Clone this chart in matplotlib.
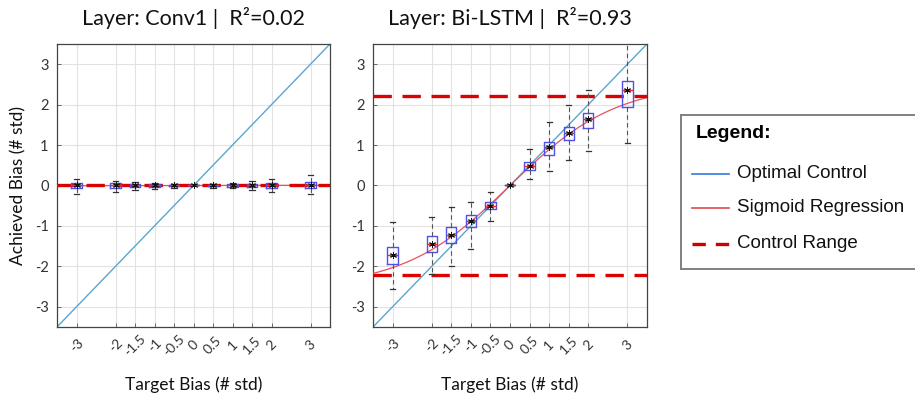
import numpy as np
import matplotlib
matplotlib.use('Agg')
import matplotlib.pyplot as plt

# target bias levels (x positions) and their tick labels
targets = [-3, -2, -1.5, -1, -0.5, 0, 0.5, 1, 1.5, 2, 3]
tick_labels = ['-3', '-2', '-1.5', '-1', '-0.5', '0', '0.5', '1', '1.5', '2', '3']
y_ticks = [-3, -2, -1, 0, 1, 2, 3]

# Layer Conv1 (R^2 = 0.02)
conv1_med = [0.0, 0.0, 0.0, 0.0, 0.0, 0.0, 0.0, 0.0, 0.0, 0.0, 0.02]
conv1_q1 = [-0.07, -0.06, -0.04, -0.03, -0.02, 0.0, -0.02, -0.03, -0.04, -0.05, -0.05]
conv1_q3 = [0.07, 0.06, 0.04, 0.03, 0.02, 0.0, 0.02, 0.03, 0.04, 0.06, 0.08]
conv1_lo = [-0.2, -0.16, -0.12, -0.08, -0.06, 0.0, -0.06, -0.07, -0.12, -0.17, -0.22]
conv1_hi = [0.15, 0.11, 0.09, 0.06, 0.04, 0.0, 0.04, 0.05, 0.1, 0.15, 0.26]
conv1_range = [0.0]

# Layer Bi-LSTM (R^2 = 0.93)
lstm_med = [-1.72, -1.45, -1.23, -0.88, -0.5, 0.0, 0.49, 0.94, 1.31, 1.65, 2.37]
lstm_q1 = [-1.95, -1.65, -1.42, -1.03, -0.58, 0.0, 0.38, 0.75, 1.12, 1.42, 1.94]
lstm_q3 = [-1.53, -1.24, -1.03, -0.72, -0.4, 0.0, 0.57, 1.08, 1.45, 1.79, 2.58]
lstm_lo = [-2.57, -2.19, -1.98, -1.56, -0.89, 0.0, 0.16, 0.35, 0.63, 0.85, 1.04]
lstm_hi = [-0.91, -0.78, -0.54, -0.4, -0.16, 0.0, 0.91, 1.57, 2.0, 2.37, 3.6]
lstm_range = [-2.22, 2.22]

panels = [
    ('Layer: Conv1 |  R\u00b2=0.02', conv1_med, conv1_q1, conv1_q3, conv1_lo, conv1_hi, conv1_range),
    ('Layer: Bi-LSTM |  R\u00b2=0.93', lstm_med, lstm_q1, lstm_q3, lstm_lo, lstm_hi, lstm_range),
]

TICK_FONT = 'Lato'
LEG_FONT = 'Liberation Sans'


def fit_sigmoid(x, y):
    """least squares fit of y = a*tanh(k*x), grid over k"""
    x = np.asarray(x, float)
    y = np.asarray(y, float)
    best = (0.0, 1.0, np.inf)
    for k in np.linspace(0.05, 2.0, 400):
        t = np.tanh(k * x)
        a = (y * t).sum() / (t * t).sum()
        err = ((y - a * t) ** 2).sum()
        if err < best[2]:
            best = (a, k, err)
    return best[0], best[1]


fig = plt.figure(figsize=(9.15, 3.93), dpi=100)
ax_rects = [[57 / 915, 66 / 393, 273 / 915, 283 / 393],
            [373 / 915, 66 / 393, 274 / 915, 283 / 393]]

for i, (title, med, q1, q3, lo, hi, crange) in enumerate(panels):
    ax = fig.add_axes(ax_rects[i])
    ax.set_xlim(-3.5, 3.5)
    ax.set_ylim(-3.5, 3.5)
    ax.set_xticks(targets)
    ax.set_xticklabels(tick_labels, rotation=45, ha='center', va='center',
                       fontsize=10, family=TICK_FONT, color='#333333')
    ax.set_yticks(y_ticks)
    ax.set_yticklabels([str(v) for v in y_ticks], fontsize=10.5,
                       family=TICK_FONT, color='#333333')
    ax.tick_params(direction='in', length=3, width=0.6, color='#555555', pad=6)
    ax.tick_params(axis='x', pad=13)
    ax.grid(True, color='#e2e2e2', lw=0.8)
    ax.set_axisbelow(True)
    for s in ax.spines.values():
        s.set_color('#444444')
        s.set_linewidth(0.9)

    # optimal control (identity)
    ax.plot([-3.5, 3.5], [-3.5, 3.5], color='#5aa6cf', lw=1.0, zorder=2)

    # sigmoid regression fitted to the medians
    amp, k = fit_sigmoid(targets, med)
    xs = np.linspace(-3.5, 3.5, 200)
    ax.plot(xs, amp * np.tanh(k * xs), color='#e8505a', lw=0.9, zorder=3)

    # control range
    for yv in crange:
        ax.axhline(yv, color='#dd0000', lw=2.4, dashes=(5.5, 3.2), zorder=3)

    stats = []
    for j in range(len(targets)):
        stats.append(dict(med=med[j], q1=q1[j], q3=q3[j], whislo=lo[j],
                          whishi=hi[j], mean=med[j], fliers=[]))
    ax.bxp(stats, positions=targets, widths=0.26, showmeans=True,
           manage_ticks=False, patch_artist=False,
           boxprops=dict(color='#5050ea', lw=1.0),
           whiskerprops=dict(color='#555555', lw=0.8, linestyle=(0, (4, 3))),
           capprops=dict(color='#333333', lw=0.9),
           medianprops=dict(color='#e03030', lw=1.0),
           meanprops=dict(marker=(6, 2, 0), markersize=5, markeredgecolor='#111111',
                          markerfacecolor='#111111', markeredgewidth=0.7, linestyle='none'),
           zorder=4)

    ax.set_title(title, fontsize=15.5, family=TICK_FONT, pad=14, color='#111111')
    ax.set_xlabel('Target Bias (# std)', fontsize=12.5, family=TICK_FONT,
                  labelpad=13, color='#111111')
    if i == 0:
        ax.set_ylabel('Achieved Bias (# std)', fontsize=12.5, family=TICK_FONT,
                      labelpad=6, color='#111111')

# legend panel drawn by hand (its box runs off the right edge)
lax = fig.add_axes([681 / 915, 124 / 393, 234 / 915, 154 / 393])
lax.set_xlim(681, 915)
lax.set_ylim(269, 115)
lax.set_xticks([])
lax.set_yticks([])
for name, s in lax.spines.items():
    s.set_color('#808080')
    s.set_linewidth(1.4)
lax.spines['right'].set_visible(False)

lax.text(696, 134, 'Legend:', fontsize=14, fontweight='bold', family=LEG_FONT,
         va='center', ha='left')
legend_items = [('Optimal Control', '#3478e0', '-'),
                ('Sigmoid Regression', '#e04848', '-'),
                ('Control Range', '#cc0000', '--')]
legend_y = [174, 208, 244]
for (label, col, ls), yv in zip(legend_items, legend_y):
    if ls == '--':
        lax.plot([692, 729], [yv, yv], color=col, lw=2.4, dashes=(4, 3))
    else:
        lax.plot([692, 729], [yv, yv], color=col, lw=1.2)
    lax.text(737, yv, label, fontsize=13.5, family=LEG_FONT, va='center',
             ha='left', color='#111111')

fig.savefig('out.png', dpi=100)
